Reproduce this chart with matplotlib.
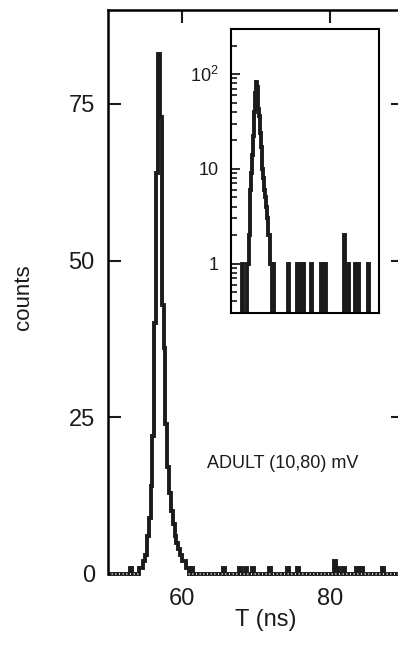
import matplotlib
matplotlib.use('Agg')
import matplotlib.pyplot as plt
import numpy as np

# histogram bins (ns) that are not empty, and their counts
peak_t = [54.375, 54.625, 54.875, 55.125, 55.375, 55.625, 55.875, 56.125,
          56.375, 56.625, 56.875, 57.125, 57.375, 57.625, 57.875, 58.125,
          58.375, 58.625, 58.875, 59.125, 59.375, 59.625, 59.875, 60.125,
          60.375, 60.625, 60.875, 61.375]
peak_counts = [1, 1, 2, 3, 6, 9, 14, 22,
               40, 64, 83, 73, 43, 36, 24, 17,
               13, 10, 8, 6, 5, 4, 3, 2,
               2, 1, 1, 1]
noise_t = [53.125, 65.625, 67.875, 68.625, 69.625, 71.875, 74.375, 75.625,
           80.625, 81.125, 81.875, 83.625, 84.375, 87.125]
noise_counts = [1, 1, 1, 1, 1, 1, 1, 1,
                2, 1, 1, 1, 1, 1]

t_min, t_max, bin_w = 50, 90, 0.25
main_yticks = [0, 25, 50, 75]
main_xticks = [60, 80]
inset_yticks = [1, 10, 100]
inset_ylabels = ['1', '10', r'$\mathregular{10^2}$']

plt.rcParams['font.family'] = ['Liberation Sans', 'DejaVu Sans']
ink = '#1b1b1b'

# build the full histogram
edges = np.arange(t_min, t_max + bin_w / 2, bin_w)
counts = np.zeros(len(edges) - 1)
for t, c in zip(peak_t + noise_t, peak_counts + noise_counts):
    counts[int((t - t_min) // bin_w)] = c

W, H = 398, 648
fig = plt.figure(figsize=(W / 100, H / 100), dpi=100)

# main panel (right edge runs past the picture, as in the original)
ax = fig.add_axes([108 / W, 1 - 574 / H, 296 / W, 564 / H])
ax.stairs(counts, edges, baseline=None, color=ink, lw=2.8, clip_on=False)
# the zero line looks dotted in the scan
ax.axhline(0, color='white', lw=1.2, ls=(0, (0.6, 1.6)), clip_on=False)
ax.set_xlim(t_min, t_max)
ax.set_ylim(0, 90)
ax.spines['bottom'].set_visible(False)
for s in ['left', 'top', 'right']:
    ax.spines[s].set_linewidth(1.8)
ax.set_yticks(main_yticks)
ax.set_xticks(main_xticks)
ax.tick_params(axis='y', direction='in', length=9.5, width=1.5, left=True,
               right=True, labelsize=17, pad=9.5, colors=ink)
ax.tick_params(axis='x', direction='in', length=9.5, width=1.5, bottom=False,
               top=True, labelbottom=True, labelsize=17, pad=10, colors=ink)
ax.set_xlabel('T (ns)', fontsize=17, color=ink)
ax.xaxis.set_label_coords(0.534, -0.062)
ax.set_ylabel('counts', fontsize=16, color=ink)
ax.yaxis.set_label_coords(-0.25, 0.49)
ax.text(63.4, 17.7, 'ADULT (10,80) mV', fontsize=13, color=ink, va='center')

# inset, log scale
axi = fig.add_axes([231 / W, 1 - 313 / H, 148 / W, 284 / H])
log_counts = np.where(counts > 0, counts, 1e-3)
axi.stairs(log_counts, edges, baseline=None, color=ink, lw=2.8)
axi.set_yscale('log')
axi.set_xlim(t_min, t_max)
axi.set_ylim(0.3, 300)
for s in axi.spines.values():
    s.set_linewidth(1.5)
axi.set_yticks(inset_yticks)
axi.set_yticklabels(inset_ylabels)
axi.tick_params(axis='y', which='major', direction='in', length=6.5, width=1.3,
                labelsize=13, pad=9, colors=ink)
axi.tick_params(axis='y', which='minor', direction='in', length=4, width=1.1)
axi.tick_params(axis='x', which='both', bottom=False, labelbottom=False)

fig.savefig('out.png', dpi=100)
